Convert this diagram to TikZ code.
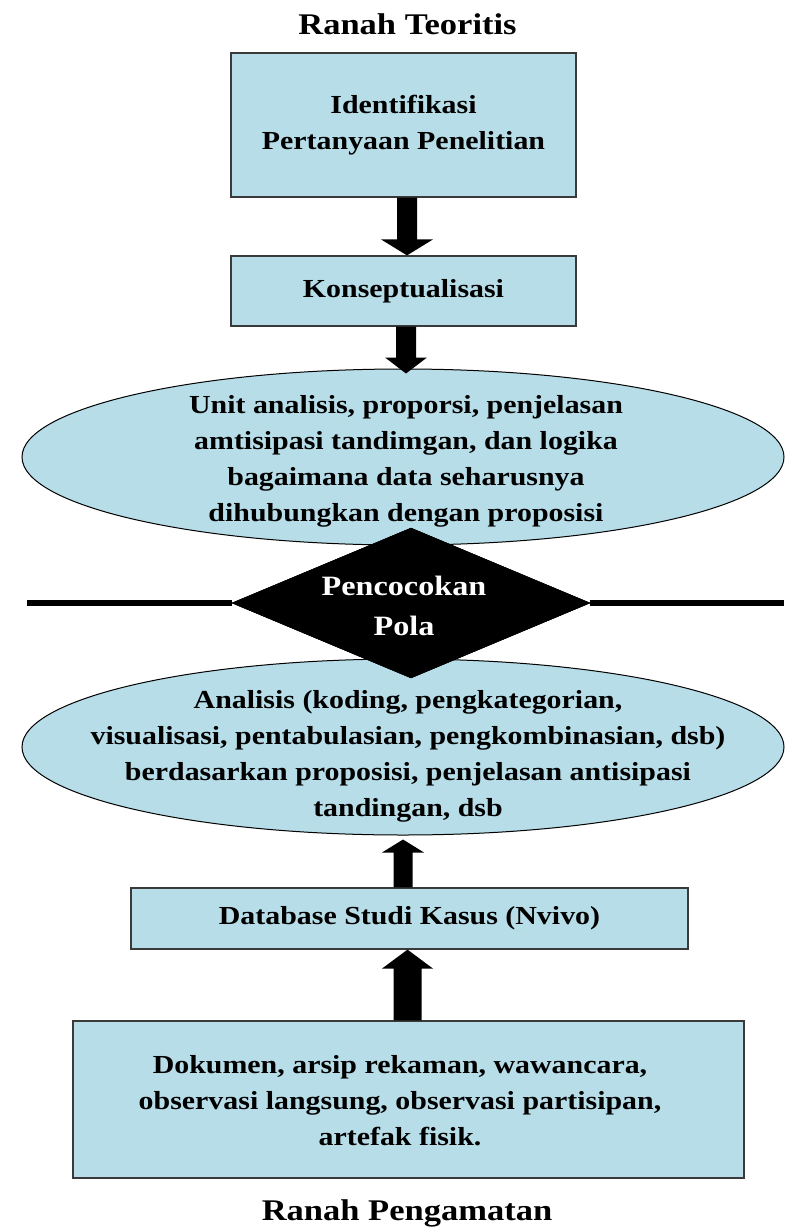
\documentclass[tikz,border=0pt]{standalone}
\usepackage{fontspec}
\setmainfont{Liberation Serif}[FakeStretch=1.15]
\usetikzlibrary{shapes.geometric,calc}

\definecolor{boxblue}{HTML}{B7DDE8}
\definecolor{edgegray}{HTML}{3A3A3A}

\newcommand\boxfont{\fontsize{26}{36}\selectfont\bfseries}
\newcommand\titlefont{\fontsize{30}{36}\selectfont\bfseries}

% Block arrow: #1 tail, #2 tip, #3 half shaft width, #4 half head width,
% #5 signed head length (positive = pointing down, negative = pointing up)
\newcommand\blockarrow[5]{%
  \fill[black] let \p1=(#1), \p2=(#2) in
    ({\x2-#3},{\y1}) -- ({\x2-#3},{\y2+(#5)}) -- ({\x2-#4},{\y2+(#5)})
    -- (\x2,\y2)
    -- ({\x2+#4},{\y2+(#5)}) -- ({\x2+#3},{\y2+(#5)}) -- ({\x2+#3},{\y1}) -- cycle;}

\tikzset{
  stepbox/.style={draw=edgegray, line width=1.2pt, fill=boxblue,
    inner sep=0pt, align=center, font=\boxfont},
  oval/.style={ellipse, draw=black, line width=1pt, fill=boxblue,
    minimum width=762pt, minimum height=176pt, inner sep=0pt},
  plain/.style={inner sep=0pt, align=center, font=\boxfont},
  heading/.style={inner sep=0pt, anchor=base, font=\titlefont},
  matchmark/.style={diamond, fill=black, draw=black,
    minimum width=358pt, minimum height=150pt, inner sep=0pt},
}

\begin{document}
\begin{tikzpicture}[x=1pt,y=-1pt]
  \fill[white] (0,0) rectangle (784,1228);
  \useasboundingbox (0,0) rectangle (784,1228);

  % theoretical side
  \node[heading] (t1) at (407.5,35) {Ranah Teoritis};
  \node[stepbox, minimum width=345pt, minimum height=144pt] (b1) at (403.5,125)
    {Identifikasi\\Pertanyaan Penelitian};
  \node[stepbox, minimum width=345pt, minimum height=70pt] (b2) at (403.5,291)
    {Konseptualisasi};
  \node[oval] (e1) at (403,457) {};
  \node[oval] (e2) at (403,747) {};

  % dividing line with the pattern matching diamond
  \coordinate (lL) at (27,603);
  \coordinate (lR) at (784,603);
  \node[matchmark] (dm) at (411,603) {};
  \draw[line width=6pt] (lL) -- (dm.west);
  \draw[line width=6pt] (dm.east) -- (lR);
  \node[matchmark] at (dm.center) {};

  % empirical side
  \node[stepbox, minimum width=557pt, minimum height=61pt] (b3) at (409.5,918.5)
    {Database Studi Kasus (Nvivo)};
  \node[stepbox, minimum width=671pt, minimum height=157pt] (b4) at (408.5,1099.5) {};
  \node[heading] (t2) at (407,1220) {Ranah Pengamatan};

  % texts
  \node[plain] (e1t) at (406,461)
    {Unit analisis, proporsi, penjelasan\\amtisipasi tandimgan, dan logika\\bagaimana data seharusnya\\dihubungkan dengan proposisi};
  \node[plain] (e2t) at (408,756)
    {Analisis (koding, pengkategorian,\\visualisasi, pentabulasian, pengkombinasian, dsb)\\berdasarkan proposisi, penjelasan antisipasi\\tandingan, dsb};
  \node[plain, text=white, font=\fontsize{28}{40}\selectfont\bfseries] (dmt) at (404,606)
    {Pencocokan\\Pola};
  \node[plain] (b4t) at (400,1101)
    {Dokumen, arsip rekaman, wawancara,\\observasi langsung, observasi partisipan,\\artefak fisik.};

  % arrows
  \blockarrow{[xshift=3.5pt]b1.south}{[xshift=3.5pt]b2.north}{10pt}{26pt}{16pt}
  \blockarrow{[xshift=3.5pt]b2.south}{[xshift=3pt,yshift=-5pt]e1.north}{10pt}{21pt}{16pt}
  \blockarrow{b3.north}{[yshift=-4pt]e2.south}{9.5pt}{21pt}{-13pt}
  \blockarrow{[xshift=-1pt]b4.north}{[xshift=-2pt]b3.south}{14pt}{25.5pt}{-19pt}
\end{tikzpicture}
\end{document}
